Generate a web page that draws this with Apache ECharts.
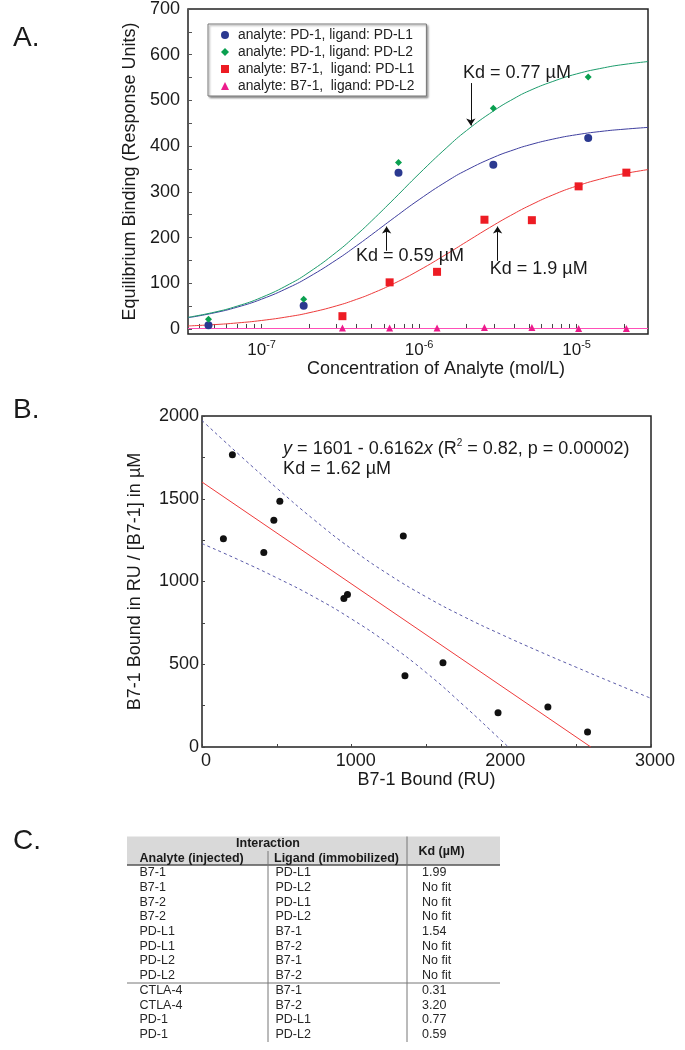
<!DOCTYPE html>
<html><head><meta charset="utf-8">
<script src="https://cdn.jsdelivr.net/npm/echarts@6/dist/echarts.min.js"></script>
<style>html,body{margin:0;padding:0;background:#fff}#c{width:685px;height:1050px}</style>
</head><body><div id="c"></div>
<script>
// ---------- Panel A data ----------
const concPD1 = [4.6e-8, 1.85e-7, 7.4e-7, 2.96e-6, 1.185e-5];
const pd1_pdl1 = [8, 51, 342, 359, 418];
const pd1_pdl2 = [21, 65, 364, 483, 551];
const concB71 = [3.26e-7, 6.5e-7, 1.3e-6, 2.6e-6, 5.2e-6, 1.03e-5, 2.07e-5];
const b71_pdl1 = [28, 102, 125, 239, 238, 312, 342];
const b71_pdl2 = [2, 2, 2, 3, 3, 1, 1];
const curveX = [3.41e-8, 5e-8, 7e-8, 1e-7, 1.5e-7, 2e-7, 3e-7, 4e-7, 5e-7, 7e-7, 1e-6, 1.5e-6, 2e-6, 3e-6, 4e-6, 5e-6, 7e-6, 1e-5, 1.5e-5, 2e-5, 2.84e-5];
const fitPD1_PDL1 = [24.6, 35.2, 47.7, 65.2, 91.2, 113.9, 151.7, 181.8, 206.4, 244.2, 283, 323, 347.5, 376, 392, 402.5, 415, 425, 433, 437, 441];
const fitPD1_PDL2 = [25.5, 36.6, 50, 69, 98, 124, 168.5, 205.5, 236.6, 286, 339.5, 397, 434, 478, 504, 521, 541, 558, 571.6, 578.7, 585];
const fitB71_PDL1 = [6.6, 9.5, 13.2, 18.6, 27.2, 35.4, 50.7, 64.7, 77.5, 100.2, 128.3, 164.1, 190.8, 227.8, 252.2, 269.6, 292.6, 312.6, 330.2, 339.7, 348.7];
const fitB71_PDL2X = [3.41e-8, 2.84e-5];
const fitB71_PDL2 = [1, 1];
const seriesNamesA = ['analyte: PD-1, ligand: PD-L1', 'analyte: PD-1, ligand: PD-L2', 'analyte: B7-1,  ligand: PD-L1', 'analyte: B7-1,  ligand: PD-L2'];
const xLabelValuesA = [1e-7, 1e-6, 1e-5];
const xTickValuesA = [4e-8,5e-8,6e-8,7e-8,8e-8,9e-8,1e-7,2e-7,3e-7,4e-7,5e-7,6e-7,7e-7,8e-7,9e-7,1e-6,2e-6,3e-6,4e-6,5e-6,6e-6,7e-6,8e-6,9e-6,1e-5,2e-5];
const yLabelValuesA = [0,100,200,300,400,500,600,700];
const yTickValuesA = [0,50,100,150,200,250,300,350,400,450,500,550,600,650,700];
// Kd annotations: [text, x, y] and arrows [x, yFrom, yTo]
const kdTextsA = [['Kd = 0.77 µM', 1.9e-6, 561], ['Kd = 0.59 µM', 3.98e-7, 160], ['Kd = 1.9 µM', 2.81e-6, 132]];
const kdArrowsA = [[2.13e-6, 538, 445], [6.22e-7, 171, 224], [3.15e-6, 149, 224]];

// ---------- Panel B data ----------
const boundRU = [143, 203, 413, 480, 520, 948, 972, 1345, 1356, 1610, 1978, 2311, 2576];
const boundRatio = [1259, 1766, 1175, 1370, 1485, 897, 921, 1275, 430, 509, 207, 241, 90];
const regX = [0, 2598];
const regY = [1601, 0];
const upperX = [0, 250, 500, 750, 1000, 1250, 1500, 1750, 2000, 2250, 2500, 2750, 3000];
const upperY = [1973, 1765, 1564, 1372, 1196, 1041, 906, 787, 680, 579, 482, 387, 294];
const lowerX = [0, 250, 500, 750, 1000, 1250, 1500, 1750, 2000, 2047];
const lowerY = [1229, 1129, 1022, 906, 773, 621, 448, 250, 40, 0];

// ---------- Panel C data ----------
const analytes = ['B7-1','B7-1','B7-2','B7-2','PD-L1','PD-L1','PD-L2','PD-L2','CTLA-4','CTLA-4','PD-1','PD-1'];
const ligands = ['PD-L1','PD-L2','PD-L1','PD-L2','B7-1','B7-2','B7-1','B7-2','B7-1','B7-2','PD-L1','PD-L2'];
const kdValues = ['1.99','No fit','No fit','No fit','1.54','No fit','No fit','No fit','0.31','3.20','0.77','0.59'];

const FONT = '"Liberation Sans", Arial, Helvetica, sans-serif';
const zip = (xs, ys) => xs.map((x, i) => [x, ys[i]]);
const chart = echarts.init(document.getElementById('c'));

function txt(x, y, text, font, align, color) {
  return {type: 'text', x: x, y: y, silent: true,
    style: {text: text, font: font, fill: color || '#1a1a1a', textAlign: align || 'left', textVerticalAlign: 'middle', align: align || 'left', verticalAlign: 'middle'}};
}
const graphics = [];
graphics.push(txt(13, 38, 'A.', '28px ' + FONT));
graphics.push(txt(13, 410, 'B.', '28px ' + FONT));
graphics.push(txt(13, 841, 'C.', '28px ' + FONT));
// table
const tL = 127, tR = 500, tTop = 836.5, hBot = 865, tBot = 1042;
graphics.push({type: 'rect', silent: true, shape: {x: tL, y: tTop, width: tR - tL, height: hBot - tTop}, style: {fill: '#d9d9d9'}});
graphics.push({type: 'line', silent: true, shape: {x1: tL, y1: hBot, x2: tR, y2: hBot}, style: {stroke: '#555', lineWidth: 1.5}});
graphics.push({type: 'line', silent: true, shape: {x1: tL, y1: 983, x2: tR, y2: 983}, style: {stroke: '#777', lineWidth: 1}});
graphics.push({type: 'line', silent: true, shape: {x1: 407, y1: tTop, x2: 407, y2: tBot}, style: {stroke: '#777', lineWidth: 1}});
graphics.push({type: 'line', silent: true, shape: {x1: 268, y1: 851, x2: 268, y2: tBot}, style: {stroke: '#777', lineWidth: 1}});
const HB = 'bold 12.5px ' + FONT, RF = '12.5px ' + FONT;
graphics.push(txt(268, 844, 'Interaction', HB, 'center'));
graphics.push(txt(139.5, 858.5, 'Analyte (injected)', HB));
graphics.push(txt(274, 858.5, 'Ligand (immobilized)', HB));
graphics.push(txt(441.5, 851.5, 'Kd (µM)', HB, 'center'));
const colX = [139.5, 275.5, 422];
analytes.forEach((a, i) => {
  const y = 872.7 + i * 14.72;
  graphics.push(txt(colX[0], y, a, RF, 'left', '#262626'));
  graphics.push(txt(colX[1], y, ligands[i], RF, 'left', '#262626'));
  graphics.push(txt(colX[2], y, kdValues[i], RF, 'left', '#262626'));
});

const kdMarks = kdTextsA.map(k => ({coord: [k[1], k[2]], value: k[0]}));
const arrowMarks = kdArrowsA.map(a => [{coord: [a[0], a[1]]}, {coord: [a[0], a[2]]}]);
const plain = v => String(v);

const option = {
  animation: false,
  backgroundColor: '#fff',
  textStyle: {fontFamily: FONT},
  graphic: graphics,
  legend: {
    left: 208, top: 24, orient: 'vertical', selectedMode: false,
    itemWidth: 8, itemHeight: 8, itemGap: 3,
    padding: [4, 12, 3, 13],
    borderColor: '#777', borderWidth: 1, backgroundColor: '#fff',
    shadowColor: 'rgba(0,0,0,0.35)', shadowBlur: 2, shadowOffsetX: 1.5, shadowOffsetY: 1.5,
    textStyle: {fontSize: 13.8, color: '#222', lineHeight: 14, padding: [0, 0, 0, 4]},
    data: [
      {name: seriesNamesA[0], icon: 'circle'},
      {name: seriesNamesA[1], icon: 'diamond'},
      {name: seriesNamesA[2], icon: 'rect'},
      {name: seriesNamesA[3], icon: 'triangle'}
    ]
  },
  grid: [
    {left: 188, top: 8, width: 460, height: 326, show: true, borderColor: '#222', borderWidth: 1.5, containLabel: false},
    {left: 202, top: 416, width: 449, height: 331, show: true, borderColor: '#222', borderWidth: 1.5, containLabel: false}
  ],
  xAxis: [
    {type: 'log', gridIndex: 0, min: 3.41e-8, max: 2.84e-5, logBase: 10,
     name: 'Concentration of Analyte (mol/L)', nameLocation: 'middle', nameGap: 24,
     nameTextStyle: {fontSize: 18, color: '#1a1a1a', padding: [0, 0, 0, 36]},
     axisLine: {show: false}, splitLine: {show: false},
     axisTick: {show: true, inside: true, length: 5, customValues: xTickValuesA, lineStyle: {color: '#444'}},
     axisLabel: {customValues: xLabelValuesA, margin: 5, color: '#1a1a1a',
       formatter: v => '{b|10}{s|' + Math.round(Math.log10(v)) + '}',
       rich: {b: {fontSize: 17, lineHeight: 20, verticalAlign: 'bottom'}, s: {fontSize: 11, verticalAlign: 'top', lineHeight: 12}}}
    },
    {type: 'value', gridIndex: 1, min: 0, max: 3000, interval: 1000,
     name: 'B7-1 Bound (RU)', nameLocation: 'middle', nameGap: 23,
     nameTextStyle: {fontSize: 18, color: '#1a1a1a'},
     axisLine: {show: false}, splitLine: {show: false},
     axisTick: {show: true, inside: true, length: 3, lineStyle: {color: '#444'}},
     minorTick: {show: true, splitNumber: 2, length: 3, lineStyle: {color: '#444'}},
     axisLabel: {fontSize: 18, color: '#1a1a1a', margin: 5, padding: [0, 0, 0, 8], formatter: plain}
    }
  ],
  yAxis: [
    {type: 'value', gridIndex: 0, min: -11, max: 700,
     name: 'Equilibrium Binding (Response Units)', nameLocation: 'middle', nameGap: 36,
     nameTextStyle: {fontSize: 18, color: '#1a1a1a'},
     axisLine: {show: false}, splitLine: {show: false},
     axisTick: {show: true, inside: true, length: 4, customValues: yTickValuesA, lineStyle: {color: '#555'}},
     axisLabel: {customValues: yLabelValuesA, fontSize: 18, color: '#1a1a1a', margin: 8, formatter: plain}
    },
    {type: 'value', gridIndex: 1, min: 0, max: 2000, interval: 500,
     name: 'B7-1 Bound in RU / [B7-1] in µM', nameLocation: 'middle', nameGap: 58,
     nameTextStyle: {fontSize: 18, color: '#1a1a1a'},
     axisLine: {show: false}, splitLine: {show: false},
     axisTick: {show: true, inside: true, length: 3, lineStyle: {color: '#444'}},
     minorTick: {show: true, splitNumber: 2, length: 3, lineStyle: {color: '#444'}},
     axisLabel: {fontSize: 18, color: '#1a1a1a', margin: 3, formatter: plain}
    }
  ],
  series: [
    {type: 'line', name: 'fit1', xAxisIndex: 0, yAxisIndex: 0, data: zip(curveX, fitPD1_PDL1), smooth: true, showSymbol: false, silent: true,
     lineStyle: {color: '#3f3f9f', width: 1}, itemStyle: {color: '#3f3f9f'}, z: 2,
     markLine: {silent: true, symbol: ['none', 'arrow'], symbolSize: 7, label: {show: false},
       itemStyle: {color: '#111'},
       lineStyle: {color: '#111', width: 1, type: 'solid'}, data: arrowMarks}},
    {type: 'line', name: 'fit2', xAxisIndex: 0, yAxisIndex: 0, data: zip(curveX, fitPD1_PDL2), smooth: true, showSymbol: false, silent: true,
     lineStyle: {color: '#1c9c6c', width: 1}, itemStyle: {color: '#1c9c6c'}, z: 2,
     markPoint: {silent: true, symbol: 'circle', symbolSize: 0, data: kdMarks,
       label: {show: true, position: 'right', distance: 0, fontSize: 18, color: '#1a1a1a', formatter: p => p.value}}},
    {type: 'line', name: 'fit3', xAxisIndex: 0, yAxisIndex: 0, data: zip(curveX, fitB71_PDL1), smooth: true, showSymbol: false, silent: true,
     lineStyle: {color: '#ee3b3b', width: 1}, itemStyle: {color: '#ee3b3b'}, z: 2},
    {type: 'line', name: 'fit4', xAxisIndex: 0, yAxisIndex: 0, data: zip(fitB71_PDL2X, fitB71_PDL2), showSymbol: false, silent: true,
     lineStyle: {color: '#ff4fb8', width: 1.2}, itemStyle: {color: '#ff4fb8'}, z: 2},
    {type: 'scatter', name: seriesNamesA[0], xAxisIndex: 0, yAxisIndex: 0, data: zip(concPD1, pd1_pdl1), symbol: 'circle', symbolSize: 8, itemStyle: {color: '#2b3990', opacity: 1}, z: 5},
    {type: 'scatter', name: seriesNamesA[1], xAxisIndex: 0, yAxisIndex: 0, data: zip(concPD1, pd1_pdl2), symbol: 'diamond', symbolSize: 7, itemStyle: {color: '#0aa050', opacity: 1}, z: 5},
    {type: 'scatter', name: seriesNamesA[2], xAxisIndex: 0, yAxisIndex: 0, data: zip(concB71, b71_pdl1), symbol: 'rect', symbolSize: 8, itemStyle: {color: '#ed1c24', opacity: 1}, z: 5},
    {type: 'scatter', name: seriesNamesA[3], xAxisIndex: 0, yAxisIndex: 0, data: zip(concB71, b71_pdl2), symbol: 'triangle', symbolSize: 7, itemStyle: {color: '#ec1c8c', opacity: 1}, z: 5},

    {type: 'line', name: 'regression', xAxisIndex: 1, yAxisIndex: 1, data: zip(regX, regY), showSymbol: false, silent: true,
     lineStyle: {color: '#ee3b3b', width: 1}, z: 2},
    {type: 'line', name: 'upper', xAxisIndex: 1, yAxisIndex: 1, data: zip(upperX, upperY), smooth: true, showSymbol: false, silent: true,
     lineStyle: {color: '#5a5aa8', width: 1, type: [3, 3]}, z: 2},
    {type: 'line', name: 'lower', xAxisIndex: 1, yAxisIndex: 1, data: zip(lowerX, lowerY), smooth: true, showSymbol: false, silent: true,
     lineStyle: {color: '#5a5aa8', width: 1, type: [3, 3]}, z: 2},
    {type: 'scatter', name: 'B7-1 data', xAxisIndex: 1, yAxisIndex: 1, data: zip(boundRU, boundRatio), symbol: 'circle', symbolSize: 7,
     itemStyle: {color: '#111', opacity: 1}, z: 5,
     markPoint: {silent: true, symbol: 'circle', symbolSize: 0,
       data: [{coord: [542, 1742], value: 'eq'}],
       label: {show: true, position: 'right', distance: 0, fontSize: 18, lineHeight: 20, color: '#1a1a1a', align: 'left',
         formatter: '{i|y} = 1601 - 0.6162{i|x} (R{s|2} = 0.82, p = 0.00002)\nKd = 1.62 µM',
         rich: {i: {fontStyle: 'italic', fontSize: 18, lineHeight: 20}, s: {fontSize: 10, lineHeight: 12, verticalAlign: 'top'}}}}}
  ]
};
chart.setOption(option);
</script></body></html>
